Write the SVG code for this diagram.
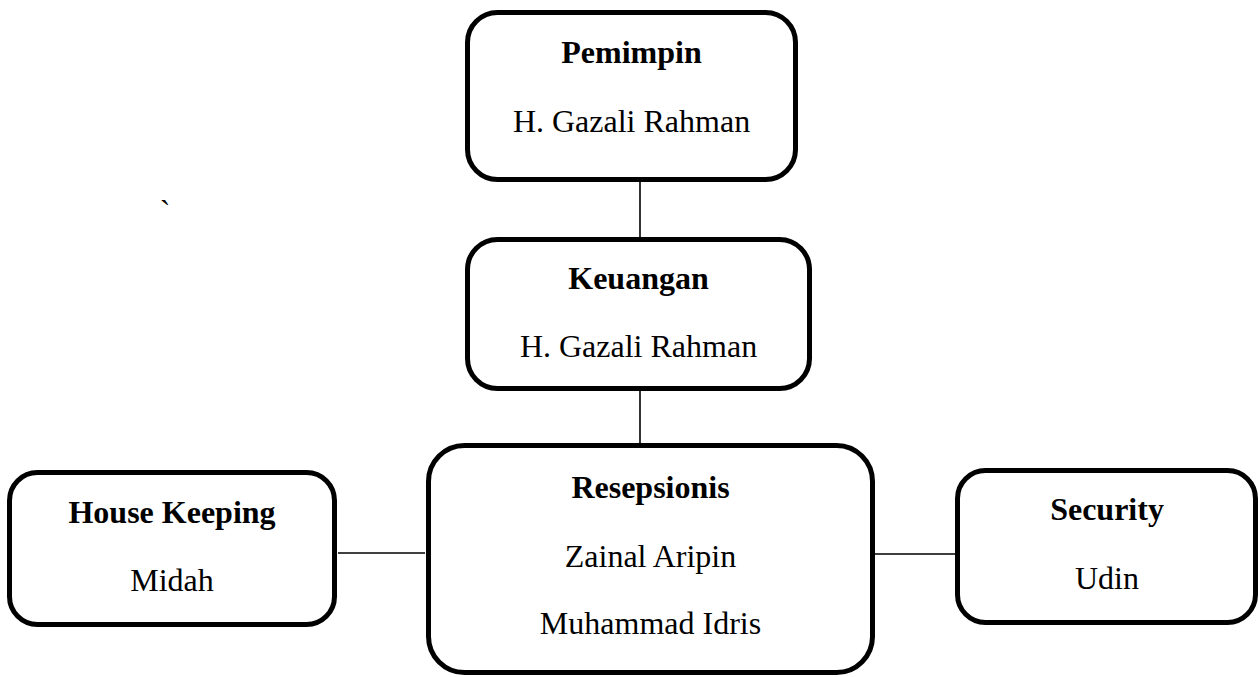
<svg xmlns="http://www.w3.org/2000/svg" width="1259" height="677" viewBox="0 0 1259 677">
<style>
.box{fill:#fff;stroke:#000;stroke-width:5}
.t{font-family:"Liberation Serif","Times New Roman",serif;font-size:32px;fill:#000;text-anchor:middle}
.b{font-weight:bold}
.c{stroke:#000;stroke-width:1.6;fill:none}
</style>
<rect width="1259" height="677" fill="#fff"/>
<g id="connectors">
<line class="c" x1="640" y1="182" x2="640" y2="238"/>
<line class="c" x1="640" y1="390" x2="640" y2="444"/>
<line class="c" x1="338" y1="553" x2="425" y2="553"/>
<line class="c" x1="868" y1="554" x2="957" y2="554"/>
</g>
<g id="pemimpin">
<rect class="box" x="467.5" y="12.5" width="328" height="167" rx="30"/>
<text class="t b" x="631.5" y="63">Pemimpin</text>
<text class="t" x="631.5" y="132">H. Gazali Rahman</text>
</g>
<g id="keuangan">
<rect class="box" x="467.5" y="239.5" width="342" height="149" rx="30"/>
<text class="t b" x="638.5" y="289">Keuangan</text>
<text class="t" x="638.5" y="357">H. Gazali Rahman</text>
</g>
<g id="resepsionis">
<rect class="box" x="428.5" y="445.5" width="444" height="227" rx="36"/>
<text class="t b" x="650.5" y="498">Resepsionis</text>
<text class="t" x="650.5" y="567">Zainal Aripin</text>
<text class="t" x="650.5" y="634">Muhammad Idris</text>
</g>
<g id="housekeeping">
<rect class="box" x="9.5" y="472.5" width="325" height="152" rx="28"/>
<text class="t b" x="172" y="523">House Keeping</text>
<text class="t" x="172" y="591">Midah</text>
</g>
<g id="security">
<rect class="box" x="957.5" y="470.5" width="298" height="152" rx="28"/>
<text class="t b" x="1107" y="520">Security</text>
<text class="t" x="1107" y="589">Udin</text>
</g>
<text class="t" x="165" y="222">`</text>
</svg>
